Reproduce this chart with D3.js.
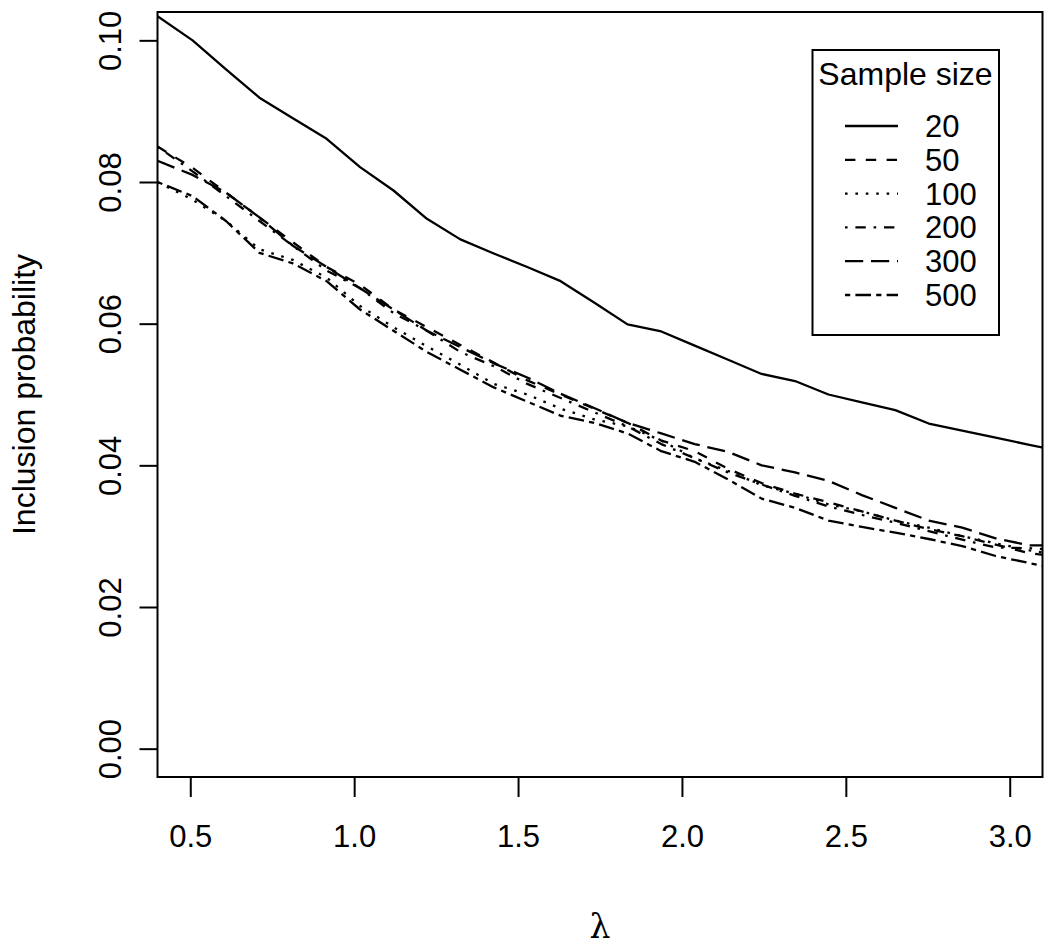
<!DOCTYPE html>
<html>
<head>
<meta charset="utf-8">
<script src="https://cdn.jsdelivr.net/npm/d3@7/dist/d3.min.js"></script>
<style>
  html, body { margin: 0; padding: 0; background: #fff; }
  svg { display: block; }
  text { font-family: "Liberation Sans", Arial, Helvetica, sans-serif; fill: #000; }
</style>
</head>
<body>
<svg id="chart" width="1050" height="945"></svg>
<script>
// ---- data ----
const lambda = [0.400, 0.507, 0.609, 0.711, 0.813, 0.916, 1.018, 1.120, 1.222, 1.324,
                1.426, 1.528, 1.630, 1.732, 1.834, 1.937, 2.039, 2.141, 2.243, 2.345,
                2.447, 2.549, 2.651, 2.753, 2.855, 2.957, 3.060, 3.162];

const n20  = [0.1034, 0.1000, 0.0959, 0.0919, 0.0890, 0.0861, 0.0821, 0.0788, 0.0748, 0.0719,
              0.0699, 0.0680, 0.0660, 0.0630, 0.0599, 0.0589, 0.0569, 0.0549, 0.0529, 0.0519,
              0.0500, 0.0489, 0.0478, 0.0459, 0.0449, 0.0439, 0.0429, 0.0419];
const n50  = [0.0850, 0.0820, 0.0785, 0.0750, 0.0715, 0.0680, 0.0655, 0.0620, 0.0595, 0.0570,
              0.0545, 0.0520, 0.0500, 0.0480, 0.0460, 0.0435, 0.0420, 0.0395, 0.0375, 0.0360,
              0.0348, 0.0335, 0.0322, 0.0310, 0.0300, 0.0288, 0.0276, 0.0270];
const n100 = [0.0800, 0.0775, 0.0745, 0.0705, 0.0690, 0.0665, 0.0625, 0.0595, 0.0568, 0.0542,
              0.0515, 0.0500, 0.0480, 0.0465, 0.0455, 0.0435, 0.0410, 0.0392, 0.0372, 0.0360,
              0.0345, 0.0335, 0.0322, 0.0312, 0.0300, 0.0290, 0.0280, 0.0272];
const n200 = [0.0850, 0.0815, 0.0780, 0.0745, 0.0710, 0.0675, 0.0650, 0.0615, 0.0590, 0.0560,
              0.0540, 0.0515, 0.0495, 0.0475, 0.0455, 0.0430, 0.0410, 0.0390, 0.0373, 0.0357,
              0.0342, 0.0330, 0.0319, 0.0307, 0.0295, 0.0284, 0.0283, 0.0280];
const n300 = [0.0830, 0.0810, 0.0785, 0.0750, 0.0710, 0.0680, 0.0650, 0.0620, 0.0590, 0.0567,
              0.0544, 0.0524, 0.0501, 0.0481, 0.0460, 0.0445, 0.0430, 0.0419, 0.0400, 0.0390,
              0.0378, 0.0358, 0.0340, 0.0322, 0.0312, 0.0297, 0.0287, 0.0287];
const n500 = [0.0800, 0.0780, 0.0745, 0.0700, 0.0685, 0.0660, 0.0620, 0.0590, 0.0560, 0.0535,
              0.0510, 0.0490, 0.0470, 0.0460, 0.0445, 0.0420, 0.0405, 0.0380, 0.0353, 0.0340,
              0.0322, 0.0313, 0.0305, 0.0296, 0.0286, 0.0272, 0.0262, 0.0252];

const seriesNames = ["20", "50", "100", "200", "300", "500"];
const seriesValues = [n20, n50, n100, n200, n300, n500];
const xTicks = [0.5, 1.0, 1.5, 2.0, 2.5, 3.0];
const yTicks = [0.00, 0.02, 0.04, 0.06, 0.08, 0.10];
const legendTitle = "Sample size";
const xTitle = "λ";
const yTitle = "Inclusion probability";

// ---- styles (R lty patterns, unit ~2.6px) ----
const u = 2.6;
const dashes = [
  null,                                   // solid
  [4*u, 4*u].join(" "),                   // dashed
  [1*u, 3*u].join(" "),                   // dotted
  [1*u, 3*u, 4*u, 3*u].join(" "),         // dotdash
  [7*u, 3*u].join(" "),                   // longdash
  [2*u, 2*u, 6*u, 2*u].join(" ")          // twodash
];

const svg = d3.select("#chart");
const L = 157.5, R = 1042.5, T = 12, B = 777;

const x = d3.scaleLinear().domain([0.4, 3.1]).range([L, R]);
const y = d3.scaleLinear().domain([-0.004, 0.104]).range([B, T]);

svg.append("defs").append("clipPath").attr("id", "clip")
  .append("rect").attr("x", L).attr("y", T).attr("width", R - L).attr("height", B - T);

// lines
const line = d3.line().x(d => x(d[0])).y(d => y(d[1]));
const g = svg.append("g").attr("clip-path", "url(#clip)");
seriesValues.forEach((vals, i) => {
  const pts = lambda.map((l, j) => [l, vals[j]]);
  g.append("path")
    .attr("d", line(pts))
    .attr("fill", "none")
    .attr("stroke", "#000")
    .attr("stroke-width", 2.3)
    .attr("stroke-linejoin", "round")
    .attr("stroke-dasharray", dashes[i]);
});

// frame
svg.append("rect").attr("x", L).attr("y", T).attr("width", R - L).attr("height", B - T)
  .attr("fill", "none").attr("stroke", "#000").attr("stroke-width", 2);

// x axis
const xAxis = d3.axisBottom(x).tickValues(xTicks).tickFormat(d3.format(".1f"))
  .tickSize(20).tickPadding(28);
const gx = svg.append("g").attr("transform", `translate(0,${B})`).call(xAxis);
gx.select(".domain").remove();
gx.selectAll(".tick line").attr("stroke", "#000").attr("stroke-width", 2);
gx.selectAll(".tick text").attr("font-size", 31)
  .style("font-family", '"Liberation Sans", Arial, sans-serif');

// y axis
const yAxis = d3.axisLeft(y).tickValues(yTicks).tickFormat(d3.format(".2f"))
  .tickSize(18).tickPadding(0);
const gy = svg.append("g").attr("transform", `translate(${L},0)`).call(yAxis);
gy.select(".domain").remove();
gy.selectAll(".tick line").attr("stroke", "#000").attr("stroke-width", 2);
gy.selectAll(".tick text")
  .attr("dy", null)
  .attr("transform", "rotate(-90)")
  .attr("text-anchor", "middle")
  .attr("dominant-baseline", "middle")
  .attr("font-size", 31)
  .style("font-family", '"Liberation Sans", Arial, sans-serif')
  .attr("x", 0).attr("y", -45);

// axis titles
svg.append("text")
  .attr("x", (L + R) / 2).attr("y", 938)
  .attr("text-anchor", "middle")
  .attr("font-size", 33)
  .style("font-family", '"DejaVu Serif", "Liberation Serif", serif')
  .text(xTitle);

svg.append("text")
  .attr("transform", `translate(35,${(T + B) / 2}) rotate(-90)`)
  .attr("text-anchor", "middle")
  .attr("font-size", 32)
  .text(yTitle);

// legend
const lg = svg.append("g");
lg.append("rect").attr("x", 812.5).attr("y", 50).attr("width", 186.5).attr("height", 285)
  .attr("fill", "#fff").attr("stroke", "#000").attr("stroke-width", 2);
lg.append("text").attr("x", 905.5).attr("y", 85).attr("text-anchor", "middle")
  .attr("font-size", 32).text(legendTitle);
seriesNames.forEach((name, i) => {
  const cy = 126 + i * 33.8;
  lg.append("line").attr("x1", 845).attr("x2", 898).attr("y1", cy).attr("y2", cy)
    .attr("stroke", "#000").attr("stroke-width", 2.3)
    .attr("stroke-dasharray", dashes[i]);
  lg.append("text").attr("x", 925).attr("y", cy + 11)
    .attr("font-size", 31).text(name);
});
</script>
</body>
</html>
